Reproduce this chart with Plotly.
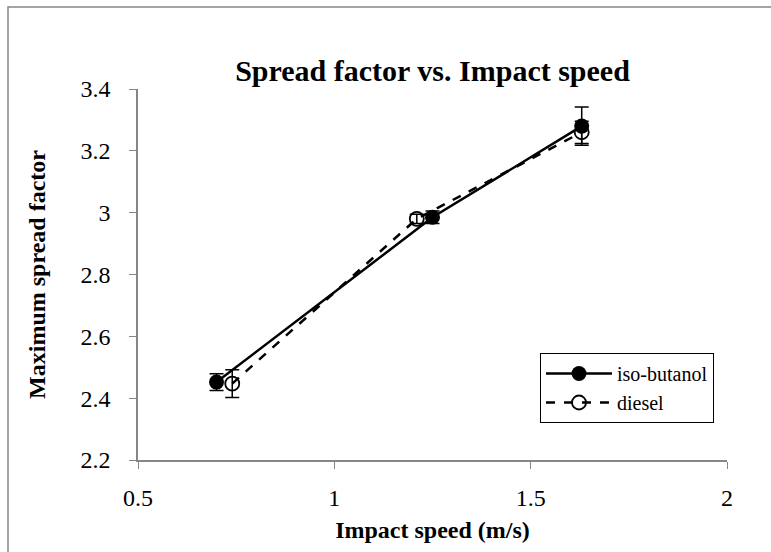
import plotly.graph_objects as go

# Data
iso_x = [0.70, 1.25, 1.63]
iso_y = [2.452, 2.985, 3.280]
iso_err = [0.027, 0.020, 0.062]

dsl_x = [0.74, 1.21, 1.63]
dsl_y = [2.447, 2.980, 3.260]
dsl_err = [0.045, 0.015, 0.036]

x_ticks = [0.5, 1, 1.5, 2]
x_tick_labels = ["0.5", "1", "1.5", "2"]
y_ticks = [2.2, 2.4, 2.6, 2.8, 3.0, 3.2, 3.4]
y_tick_labels = ["2.2", "2.4", "2.6", "2.8", "3", "3.2", "3.4"]

FONT = "Liberation Serif, Times New Roman, serif"

fig = go.Figure()
fig.add_trace(go.Scatter(
    x=iso_x, y=iso_y, name="iso-butanol", mode="lines+markers",
    line=dict(color="black", width=2.5),
    marker=dict(symbol="circle", size=15, color="black"),
    error_y=dict(type="data", array=iso_err, color="black", thickness=1.5, width=7),
))
fig.add_trace(go.Scatter(
    x=dsl_x, y=dsl_y, name="diesel", mode="lines+markers",
    line=dict(color="black", width=2.5, dash="dash"),
    marker=dict(symbol="circle-open", size=14, color="black", line=dict(width=1.8)),
    error_y=dict(type="data", array=dsl_err, color="black", thickness=1.5, width=7),
))

L, R, T, B = 138, 44, 89, 92
W, H = 771, 552
pw, ph = W - L - R, H - T - B

def px2paper_x(px):
    return (px - L) / pw

def px2paper_y(py):
    return (H - B - py) / ph

fig.update_layout(
    width=W, height=H,
    margin=dict(l=L, r=R, t=T, b=B),
    paper_bgcolor="white", plot_bgcolor="white",
    font=dict(family=FONT, size=24, color="black"),
    title=dict(text="<b>Spread factor vs. Impact speed</b>",
               font=dict(family=FONT, size=30, color="black"),
               x=0.5, xanchor="center", xref="paper",
               y=1 - 70 / H, yanchor="middle"),
    showlegend=True,
    legend=dict(x=px2paper_x(540), y=px2paper_y(353), xanchor="left", yanchor="top",
                bordercolor="black", borderwidth=1, bgcolor="white",
                font=dict(family=FONT, size=20, color="black"),
                itemwidth=66, tracegroupgap=0),
    xaxis=dict(range=[0.5, 2], tickvals=x_ticks, ticktext=x_tick_labels,
               showgrid=False, zeroline=False, showline=True, linecolor="#868686",
               linewidth=1.5, ticks="outside", ticklen=7, tickcolor="#868686",
               ticklabelstandoff=8,
               tickfont=dict(family=FONT, size=24, color="black"),
               title=dict(text="<b>Impact speed (m/s)</b>", standoff=12,
                          font=dict(family=FONT, size=24, color="black"))),
    yaxis=dict(range=[2.2, 3.4], tickvals=y_ticks, ticktext=y_tick_labels,
               showgrid=False, zeroline=False, showline=True, linecolor="#868686",
               linewidth=1.5, ticks="outside", ticklen=7, tickcolor="#868686",
               ticklabelstandoff=14,
               tickfont=dict(family=FONT, size=24, color="black"),
               title=dict(text="<b>Maximum spread factor</b>", standoff=28,
                          font=dict(family=FONT, size=24, color="black"))),
    shapes=[dict(type="rect", xref="paper", yref="paper",
                 x0=px2paper_x(8), x1=px2paper_x(780),
                 y0=px2paper_y(560), y1=px2paper_y(7),
                 line=dict(color="#868686", width=1.5), fillcolor="rgba(0,0,0,0)",
                 layer="below")],
)

fig.write_html("out.html")
